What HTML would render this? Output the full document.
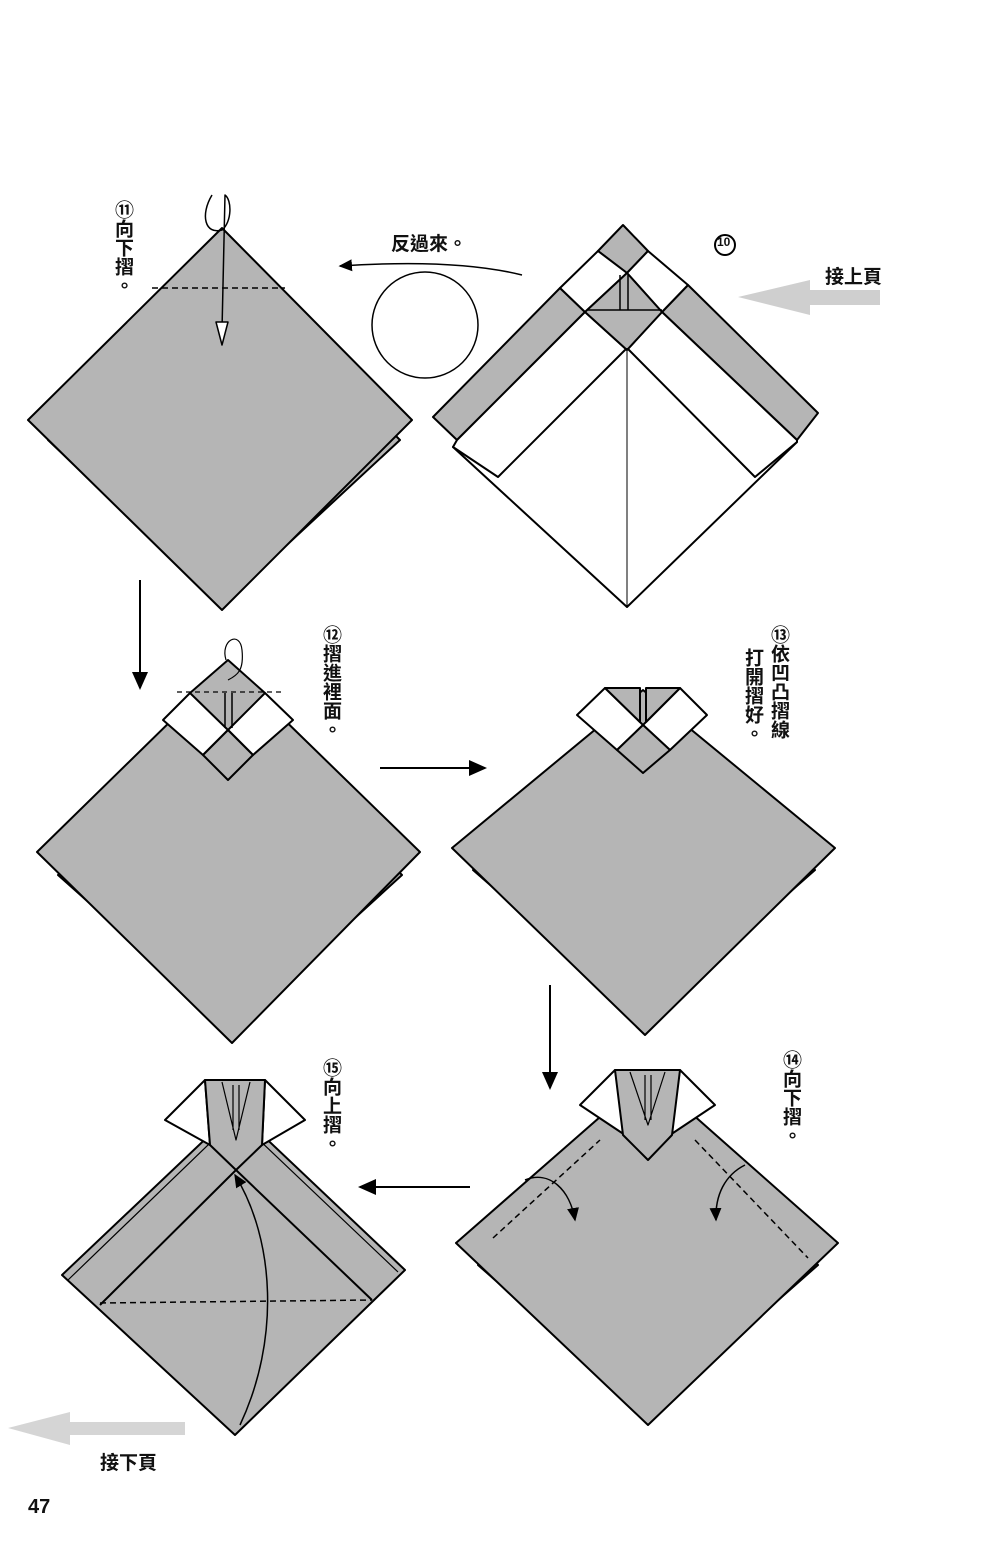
<!DOCTYPE html>
<html><head><meta charset="utf-8"><style>
body{margin:0;background:#fff}
.w{position:relative;width:1000px;height:1567px;overflow:hidden;background:#fff}
.v{position:absolute;writing-mode:vertical-rl;font-family:"Liberation Sans","Noto Sans CJK TC",sans-serif;font-weight:bold;font-size:19px;line-height:20px;color:#111}
.h{position:absolute;font-family:"Liberation Sans","Noto Sans CJK TC",sans-serif;font-weight:bold;font-size:19px;color:#111}
svg{position:absolute;left:0;top:0}
</style></head><body><div class="w">
<svg width="1000" height="1567" viewBox="0 0 1000 1567">
<defs><marker id="ah" markerWidth="10" markerHeight="10" refX="8" refY="5" orient="auto"><path d="M0,1 L9,5 L0,9 Z" fill="#000"/></marker></defs>
<g stroke="#000" stroke-width="2" stroke-linejoin="round">
<!-- 11 -->
<polygon points="48,440 222,262 400,440 222,605" fill="#b5b5b5"/>
<polygon points="222,228 412,420 222,610 28,420" fill="#b5b5b5"/>
<line x1="152" y1="288" x2="285" y2="288" stroke-dasharray="6,4" stroke-width="1.5"/>
<path d="M212,195 C200,215 205,235 222,230 C232,222 232,200 225,195 L222,330" fill="none" stroke-width="1.5"/>
<polygon points="216,322 228,322 222,345" fill="#fff" stroke-width="1.5"/>
<!-- 10 -->
<polygon points="453,447 627,348 797,442 627,607" fill="#fff"/>
<polygon points="433,417 560,288 585,312 457,440" fill="#b5b5b5"/>
<polygon points="818,413 688,285 662,312 797,440" fill="#b5b5b5"/>
<polygon points="453,447 457,440 585,312 627,350 662,312 797,440 797,442 755,477 627,348 498,477" fill="#fff"/>
<polygon points="623,225 648,251 627,273 598,251" fill="#b5b5b5"/>
<polygon points="560,288 598,251 627,273 585,312" fill="#fff"/>
<polygon points="648,251 688,285 662,312 627,273" fill="#fff"/>
<polygon points="585,312 627,273 662,312 627,350" fill="#b5b5b5"/>
<line x1="627" y1="348" x2="627" y2="607" stroke-width="1"/>
<path d="M620,275 V310 M628,275 V310 M588,310 H662" fill="none" stroke-width="1.5"/>
<!-- flip -->
<circle cx="425" cy="325" r="53" fill="none" stroke-width="1.5"/>
<path d="M522,275 C470,262 400,262 340,266" fill="none" stroke-width="1.5" marker-end="url(#ah)"/>
<!-- 12 -->
<polygon points="58,875 232,700 402,875 232,1030" fill="#b5b5b5"/>
<polygon points="228,665 420,852 232,1043 37,852" fill="#b5b5b5"/>
<polygon points="228,660 265,693 228,755 190,693" fill="#b5b5b5"/>
<polygon points="163,720 190,693 228,730 203,755" fill="#fff"/>
<polygon points="293,720 265,693 228,730 253,755" fill="#fff"/>
<polygon points="203,755 228,730 253,755 228,780" fill="#b5b5b5"/>
<line x1="177" y1="692" x2="283" y2="692" stroke-dasharray="5,4" stroke-width="1.2"/>
<path d="M225,693 V728 M232,693 V728" fill="none" stroke-width="1.5"/>
<path d="M226,660 C220,640 240,630 242,650 C244,670 238,675 228,680" fill="none" stroke-width="1.2"/>
<!-- 13 -->
<polygon points="473,870 645,700 815,870 645,1020" fill="#b5b5b5"/>
<polygon points="643,690 835,848 645,1035 452,848" fill="#b5b5b5"/>
<polygon points="577,715 605,688 643,725 617,750" fill="#fff"/>
<polygon points="707,715 680,688 643,725 670,750" fill="#fff"/>
<polygon points="617,750 643,725 670,750 643,773" fill="#b5b5b5"/>
<polygon points="605,688 640,688 640,722" fill="#b5b5b5"/>
<polygon points="680,688 646,688 646,722" fill="#b5b5b5"/>
<!-- 14 -->
<polygon points="478,1265 648,1090 818,1265 648,1415" fill="#b5b5b5"/>
<polygon points="648,1075 838,1243 648,1425 456,1243" fill="#b5b5b5"/>
<polygon points="580,1105 615,1070 625,1135" fill="#fff"/>
<polygon points="715,1105 680,1070 670,1135" fill="#fff"/>
<polygon points="615,1070 680,1070 672,1135 648,1160 623,1135" fill="#b5b5b5"/>
<path d="M630,1072 L648,1125 L665,1072 M645,1075 V1120 M651,1075 V1120" fill="none" stroke-width="1.2"/>
<path d="M493,1238 L600,1140 M695,1140 L808,1258" fill="none" stroke-dasharray="6,4" stroke-width="1.5"/>
<path d="M525,1180 C550,1170 570,1190 575,1220" fill="none" stroke-width="1.5" marker-end="url(#ah)"/>
<path d="M745,1165 C725,1175 715,1195 716,1220" fill="none" stroke-width="1.5" marker-end="url(#ah)"/>
<!-- 15 -->
<polygon points="62,1275 236,1110 405,1270 235,1435" fill="#b5b5b5"/>
<polyline points="68,1280 236,1118 398,1272" fill="none" stroke-width="1.2"/>
<polygon points="165,1120 205,1080 210,1145" fill="#fff"/>
<polygon points="305,1120 265,1080 262,1145" fill="#fff"/>
<polygon points="205,1080 265,1080 262,1145 236,1170 210,1145" fill="#b5b5b5"/>
<path d="M222,1082 L236,1140 L250,1082 M233,1085 V1130 M239,1085 V1130" fill="none" stroke-width="1.2"/>
<polyline points="100,1305 236,1170 372,1300" fill="none"/>
<line x1="100" y1="1303" x2="372" y2="1300" stroke-dasharray="6,4" stroke-width="1.5"/>
<path d="M240,1425 C280,1340 275,1240 235,1175" fill="none" stroke-width="1.5" marker-end="url(#ah)"/>
<!-- arrows -->
<line x1="140" y1="580" x2="140" y2="688" marker-end="url(#ah)"/>
<line x1="380" y1="768" x2="485" y2="768" marker-end="url(#ah)"/>
<line x1="550" y1="985" x2="550" y2="1088" marker-end="url(#ah)"/>
<line x1="470" y1="1187" x2="360" y2="1187" marker-end="url(#ah)"/>
</g>
<polygon points="738,297 810,280 810,290 880,290 880,305 810,305 810,315" fill="#cfcfcf"/>
<polygon points="8,1428 70,1412 70,1422 185,1422 185,1435 70,1435 70,1445" fill="#d5d5d5"/>
<circle cx="725" cy="245" r="10" fill="none" stroke="#000" stroke-width="2"/>
</svg>
<div class="h" style="left:391px;top:229px">反過來。</div>
<div class="h" style="left:717px;top:235px;font-size:12px">10</div>
<div class="h" style="left:825px;top:262px">接上頁</div>
<div class="v" style="left:112px;top:200px">⑪向下摺。</div>
<div class="v" style="left:320px;top:625px">⑫摺進裡面。</div>
<div class="v" style="left:768px;top:625px">⑬依凹凸摺線</div>
<div class="v" style="left:742px;top:648px">打開摺好。</div>
<div class="v" style="left:780px;top:1050px">⑭向下摺。</div>
<div class="v" style="left:320px;top:1058px">⑮向上摺。</div>
<div class="h" style="left:100px;top:1448px">接下頁</div>
<div class="h" style="left:28px;top:1496px;font-size:20px">47</div>
</div></body></html>
